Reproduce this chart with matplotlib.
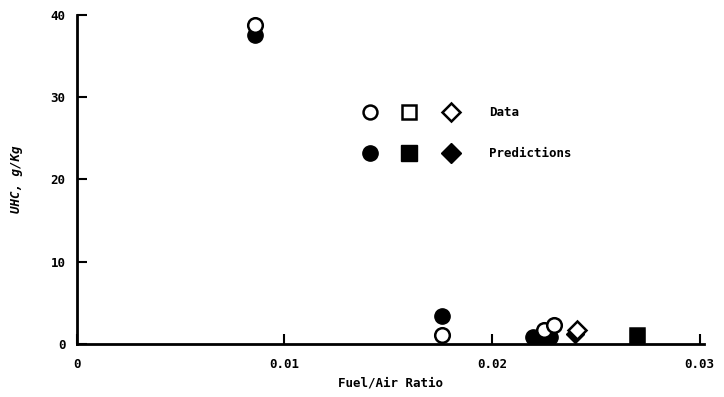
import matplotlib.pyplot as plt

# measured UHC emission index vs fuel/air ratio
data_circle_x = [0.0086, 0.0176, 0.0225, 0.0230]
data_circle_y = [38.8, 1.1, 1.7, 2.3]
pred_circle_x = [0.0086, 0.0176, 0.0220, 0.0224, 0.0228]
pred_circle_y = [37.6, 3.4, 0.8, 1.0, 0.8]
data_square_x = [0.0270]
data_square_y = [1.1]
pred_square_x = [0.0270]
pred_square_y = [0.9]
data_diamond_x = [0.0241]
data_diamond_y = [1.7]
pred_diamond_x = [0.0240]
pred_diamond_y = [1.2]

xticks = [0, 0.01, 0.02, 0.03]
xticklabels = ['0', '0.01', '0.02', '0.03']
yticks = [0, 10, 20, 30, 40]

font = 'DejaVu Sans Mono'

fig = plt.figure(figsize=(7.24, 3.97), dpi=100)
ax = fig.add_axes([0.106, 0.134, 0.866, 0.828])

ax.plot(pred_circle_x, pred_circle_y, 'o', color='black', ms=11, ls='none')
ax.plot(pred_square_x, pred_square_y, 's', color='black', ms=10, ls='none')
ax.plot(pred_diamond_x, pred_diamond_y, 'D', color='black', ms=9, ls='none')
ax.plot(data_circle_x, data_circle_y, 'o', mfc='white', mec='black', mew=1.8, ms=10.5, ls='none')
ax.plot(data_square_x, data_square_y, 's', mfc='none', mec='black', mew=1.8, ms=10, ls='none')
ax.plot(data_diamond_x, data_diamond_y, 'D', mfc='white', mec='black', mew=1.8, ms=9, ls='none')

# hand-made key inside the axes
for xp, m, ms in [(0.468, 'o', 10), (0.530, 's', 10), (0.597, 'D', 9)]:
    ax.plot(xp, 0.705, m, mfc='white', mec='black', mew=1.8, ms=ms, transform=ax.transAxes, clip_on=False)
    ax.plot(xp, 0.58, m, color='black', ms=ms + 1, transform=ax.transAxes, clip_on=False)
ax.text(0.657, 0.705, 'Data', transform=ax.transAxes, va='center', fontsize=9, family=font, weight='bold')
ax.text(0.657, 0.58, 'Predictions', transform=ax.transAxes, va='center', fontsize=9, family=font, weight='bold')

ax.set_xlim(0, 0.0302)
ax.set_ylim(0, 40)
ax.set_xticks(xticks)
ax.set_xticklabels(xticklabels)
ax.set_yticks(yticks)
ax.tick_params(direction='in', length=7, width=1.5, labelsize=9)
ax.tick_params(axis='x', pad=10)
ax.tick_params(axis='y', pad=8)
for lab in ax.get_xticklabels() + ax.get_yticklabels():
    lab.set_family(font)
    lab.set_weight('bold')

for s in ['top', 'right']:
    ax.spines[s].set_visible(False)
for s in ['left', 'bottom']:
    ax.spines[s].set_linewidth(2)

ax.set_xlabel('Fuel/Air Ratio', fontsize=9, family=font, weight='bold', labelpad=4)
ax.set_ylabel('UHC, g/Kg', fontsize=9, family=font, style='italic', weight='bold', labelpad=20)

plt.savefig('out.png', dpi=100)
plt.close()
